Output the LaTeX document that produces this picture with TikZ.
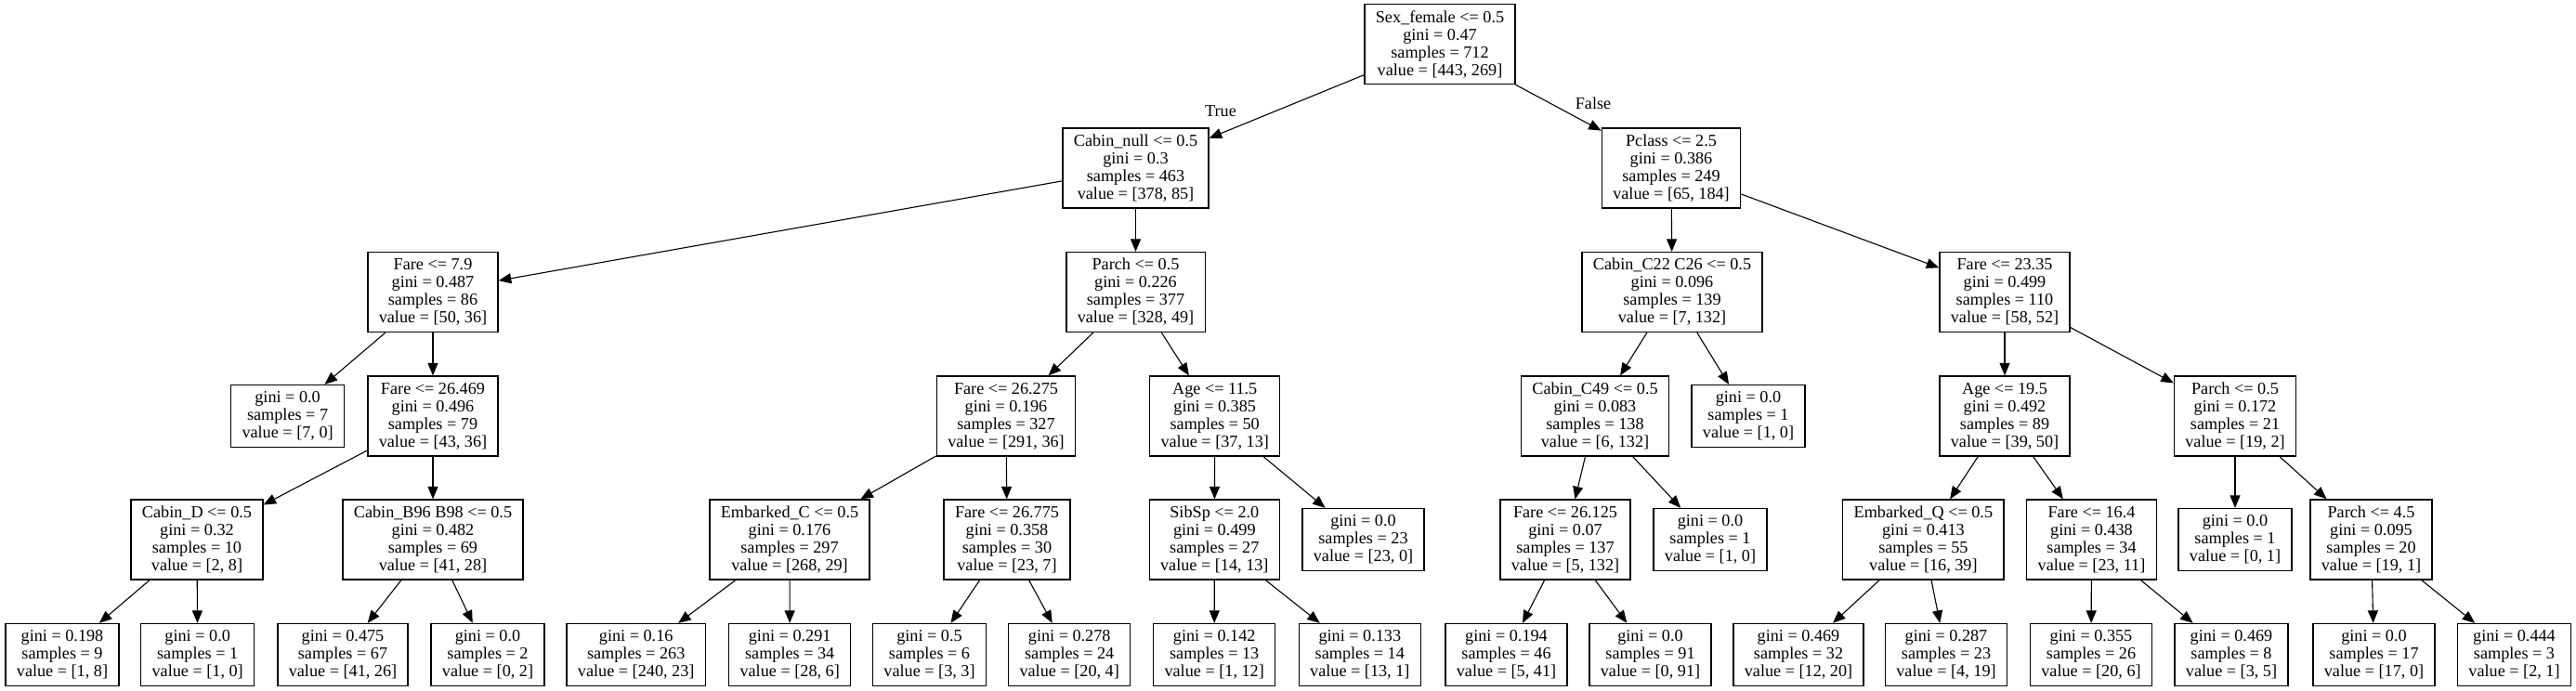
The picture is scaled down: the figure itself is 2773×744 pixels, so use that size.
\documentclass[tikz,border=0pt]{standalone}
\usepackage{fontspec}
\setmainfont{Liberation Serif}
\usetikzlibrary{arrows.meta}

\begin{document}
\begin{tikzpicture}[x=1pt,y=-1pt,>={Triangle[length=13.5pt,width=11pt]},
  every node/.style={font=\fontsize{18.2}{19}\selectfont},
  split/.style={rectangle,draw=black,fill=white,line width=1.3pt,align=center,inner xsep=11.9pt,inner ysep=0pt,minimum height=86pt},
  leaf/.style={split,minimum height=67pt},
  link/.style={->,line width=1.1pt}]
\useasboundingbox (0,0) rectangle (2773,744);

% level 0
\node (n0) at (1550,47.5)[split]{Sex\_female <= 0.5\\gini = 0.47\\samples = 712\\value = [443, 269]};

% level 1
\node (n1) at (1222.5,181)[split]{Cabin\_null <= 0.5\\gini = 0.3\\samples = 463\\value = [378, 85]};
\node (n2) at (1799,181)[split]{Pclass <= 2.5\\gini = 0.386\\samples = 249\\value = [65, 184]};

% level 2
\node (n3) at (466,314.5)[split]{Fare <= 7.9\\gini = 0.487\\samples = 86\\value = [50, 36]};
\node (n4) at (1222.5,314.5)[split]{Parch <= 0.5\\gini = 0.226\\samples = 377\\value = [328, 49]};
\node (n5) at (1800,314.5)[split]{Cabin\_C22 C26 <= 0.5\\gini = 0.096\\samples = 139\\value = [7, 132]};
\node (n6) at (2158,314.5)[split]{Fare <= 23.35\\gini = 0.499\\samples = 110\\value = [58, 52]};

% level 3
\node (n7) at (309.6,448)[leaf]{gini = 0.0\\samples = 7\\value = [7, 0]};
\node (n8) at (466,448)[split]{Fare <= 26.469\\gini = 0.496\\samples = 79\\value = [43, 36]};
\node (n9) at (1083,448)[split]{Fare <= 26.275\\gini = 0.196\\samples = 327\\value = [291, 36]};
\node (n10) at (1307.7,448)[split]{Age <= 11.5\\gini = 0.385\\samples = 50\\value = [37, 13]};
\node (n11) at (1717,448)[split]{Cabin\_C49 <= 0.5\\gini = 0.083\\samples = 138\\value = [6, 132]};
\node (n12) at (1882,448)[leaf]{gini = 0.0\\samples = 1\\value = [1, 0]};
\node (n13) at (2158,448)[split]{Age <= 19.5\\gini = 0.492\\samples = 89\\value = [39, 50]};
\node (n14) at (2406,448)[split]{Parch <= 0.5\\gini = 0.172\\samples = 21\\value = [19, 2]};

% level 4
\node (n15) at (212,581)[split]{Cabin\_D <= 0.5\\gini = 0.32\\samples = 10\\value = [2, 8]};
\node (n16) at (466,581)[split]{Cabin\_B96 B98 <= 0.5\\gini = 0.482\\samples = 69\\value = [41, 28]};
\node (n17) at (850,581)[split]{Embarked\_C <= 0.5\\gini = 0.176\\samples = 297\\value = [268, 29]};
\node (n18) at (1084,581)[split]{Fare <= 26.775\\gini = 0.358\\samples = 30\\value = [23, 7]};
\node (n19) at (1307.3,581)[split]{SibSp <= 2.0\\gini = 0.499\\samples = 27\\value = [14, 13]};
\node (n20) at (1467.5,581)[leaf]{gini = 0.0\\samples = 23\\value = [23, 0]};
\node (n21) at (1685,581)[split]{Fare <= 26.125\\gini = 0.07\\samples = 137\\value = [5, 132]};
\node (n22) at (1841,581)[leaf]{gini = 0.0\\samples = 1\\value = [1, 0]};
\node (n23) at (2070.4,581)[split]{Embarked\_Q <= 0.5\\gini = 0.413\\samples = 55\\value = [16, 39]};
\node (n24) at (2251.5,581)[split]{Fare <= 16.4\\gini = 0.438\\samples = 34\\value = [23, 11]};
\node (n25) at (2406,581)[leaf]{gini = 0.0\\samples = 1\\value = [0, 1]};
\node (n26) at (2552.5,581)[split]{Parch <= 4.5\\gini = 0.095\\samples = 20\\value = [19, 1]};

% level 5
\node (n27) at (67,705)[leaf]{gini = 0.198\\samples = 9\\value = [1, 8]};
\node (n28) at (212.7,705)[leaf]{gini = 0.0\\samples = 1\\value = [1, 0]};
\node (n29) at (369,705)[leaf]{gini = 0.475\\samples = 67\\value = [41, 26]};
\node (n30) at (525,705)[leaf]{gini = 0.0\\samples = 2\\value = [0, 2]};
\node (n31) at (684.7,705)[leaf]{gini = 0.16\\samples = 263\\value = [240, 23]};
\node (n32) at (850.2,705)[leaf]{gini = 0.291\\samples = 34\\value = [28, 6]};
\node (n33) at (1000.5,705)[leaf]{gini = 0.5\\samples = 6\\value = [3, 3]};
\node (n34) at (1151.2,705)[leaf]{gini = 0.278\\samples = 24\\value = [20, 4]};
\node (n35) at (1307.2,705)[leaf]{gini = 0.142\\samples = 13\\value = [1, 12]};
\node (n36) at (1463.8,705)[leaf]{gini = 0.133\\samples = 14\\value = [13, 1]};
\node (n37) at (1621.5,705)[leaf]{gini = 0.194\\samples = 46\\value = [5, 41]};
\node (n38) at (1776.5,705)[leaf]{gini = 0.0\\samples = 91\\value = [0, 91]};
\node (n39) at (1936,705)[leaf]{gini = 0.469\\samples = 32\\value = [12, 20]};
\node (n40) at (2095,705)[leaf]{gini = 0.287\\samples = 23\\value = [4, 19]};
\node (n41) at (2251,705)[leaf]{gini = 0.355\\samples = 26\\value = [20, 6]};
\node (n42) at (2402,705)[leaf]{gini = 0.469\\samples = 8\\value = [3, 5]};
\node (n43) at (2555.5,705)[leaf]{gini = 0.0\\samples = 17\\value = [17, 0]};
\node (n44) at (2706.5,705)[leaf]{gini = 0.444\\samples = 3\\value = [2, 1]};

% branch labels
\node (lt) at (1314,125)[anchor=base]{True};
\node (lf) at (1715,117)[anchor=base]{False};

% edges
\draw[link](n0)--(n1);
\draw[link](n0)--(n2);
\draw[link](n1)--(n3);
\draw[link](n1)--(n4);
\draw[link](n2)--(n5);
\draw[link](n2)--(n6);
\draw[link](n3)--(n7);
\draw[link](n3)--(n8);
\draw[link](n4)--(n9);
\draw[link](n4)--(n10);
\draw[link](n5)--(n11);
\draw[link](n5)--(n12);
\draw[link](n6)--(n13);
\draw[link](n6)--(n14);
\draw[link](n8)--(n15);
\draw[link](n8)--(n16);
\draw[link](n9)--(n17);
\draw[link](n9)--(n18);
\draw[link](n10)--(n19);
\draw[link](n10)--(n20);
\draw[link](n11)--(n21);
\draw[link](n11)--(n22);
\draw[link](n13)--(n23);
\draw[link](n13)--(n24);
\draw[link](n14)--(n25);
\draw[link](n14)--(n26);
\draw[link](n15)--(n27);
\draw[link](n15)--(n28);
\draw[link](n16)--(n29);
\draw[link](n16)--(n30);
\draw[link](n17)--(n31);
\draw[link](n17)--(n32);
\draw[link](n18)--(n33);
\draw[link](n18)--(n34);
\draw[link](n19)--(n35);
\draw[link](n19)--(n36);
\draw[link](n21)--(n37);
\draw[link](n21)--(n38);
\draw[link](n23)--(n39);
\draw[link](n23)--(n40);
\draw[link](n24)--(n41);
\draw[link](n24)--(n42);
\draw[link](n26)--(n43);
\draw[link](n26)--(n44);
\end{tikzpicture}
\end{document}
